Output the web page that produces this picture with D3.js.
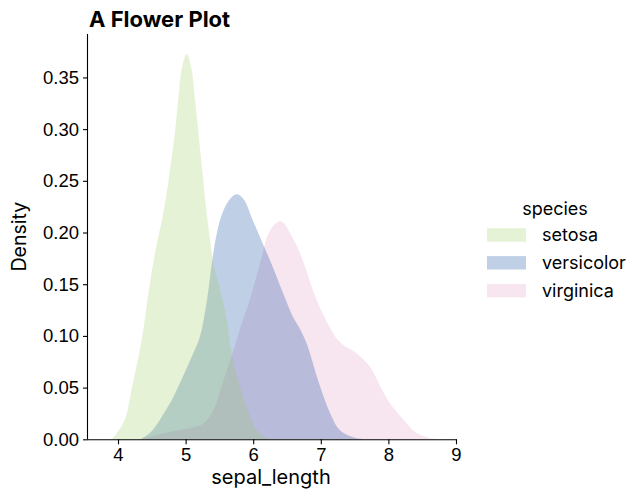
<!DOCTYPE html>
<html lang="en">
<head>
<meta charset="UTF-8">
<title>A Flower Plot</title>
<script src="https://d3js.org/d3.v7.min.js"></script>
<style>
  body { margin: 0; background: #fff; }
  svg { font-family: "Inter", "DejaVu Sans", sans-serif; }
</style>
</head>
<body>
<svg id="chart" width="643" height="502"></svg>
<script>

// species, in hue order
var species = ["setosa", "versicolor", "virginica"];
var colours = ["#97cb5b", "#003f9b", "#df97c3"];

// density curves (sepal_length, density)
var setosaX = [3.9, 3.96, 4.1, 4.2, 4.35, 4.47, 4.57, 4.65, 4.72, 4.78, 4.84, 4.89, 4.94, 5.016, 5.09, 5.14, 5.19, 5.24, 5.29, 5.35, 5.41, 5.51, 5.61, 5.68, 5.76, 5.9, 6.05, 6.2, 6.28];
var setosaY = [0, 0.004, 0.019, 0.048, 0.096, 0.15, 0.188, 0.212, 0.238, 0.266, 0.296, 0.328, 0.357, 0.373, 0.357, 0.328, 0.296, 0.264, 0.231, 0.199, 0.17, 0.145, 0.115, 0.083, 0.061, 0.032, 0.009, 0.001, 0];

var versicolorX = [4.33, 4.47, 4.62, 4.77, 4.87, 5.07, 5.21, 5.31, 5.41, 5.51, 5.63, 5.75, 5.85, 6.0, 6.15, 6.3, 6.45, 6.59, 6.69, 6.79, 6.84, 6.99, 7.14, 7.28, 7.48, 7.65];
var versicolorY = [0, 0.006, 0.019, 0.035, 0.048, 0.077, 0.099, 0.132, 0.18, 0.212, 0.23, 0.237, 0.233, 0.211, 0.188, 0.165, 0.14, 0.118, 0.107, 0.093, 0.083, 0.051, 0.025, 0.009, 0.002, 0];

var virginicaX = [4.33, 4.47, 4.77, 5.07, 5.26, 5.41, 5.56, 5.68, 5.8, 5.95, 6.1, 6.25, 6.41, 6.59, 6.74, 6.89, 7.04, 7.28, 7.53, 7.73, 7.88, 8.02, 8.22, 8.42, 8.62, 8.76];
var virginicaY = [0, 0.0025, 0.0074, 0.011, 0.015, 0.028, 0.057, 0.08, 0.106, 0.135, 0.17, 0.202, 0.211, 0.194, 0.172, 0.143, 0.12, 0.094, 0.083, 0.07, 0.051, 0.035, 0.019, 0.006, 0.001, 0];

var xTicks = [4, 5, 6, 7, 8, 9];
var yTicks = [0, 0.05, 0.10, 0.15, 0.20, 0.25, 0.30, 0.35];

var curves = [
  d3.zip(setosaX, setosaY),
  d3.zip(versicolorX, versicolorY),
  d3.zip(virginicaX, virginicaY)
];

var svg = d3.select("#chart"),
    plotL = 88, plotR = 457, plotT = 34, plotB = 439.3;

var x = d3.scaleLinear().domain([3.556, 9.015]).range([plotL, plotR]);
var y = d3.scaleLinear().domain([0, 0.392]).range([plotB, plotT]);

var area = d3.area()
  .curve(d3.curveCatmullRom.alpha(0.5))
  .x(function (d) { return x(d[0]); })
  .y0(y(0))
  .y1(function (d) { return y(d[1]); });

// seaborn draws the last hue first, so setosa ends up on top
svg.append("g").selectAll("path")
  .data(d3.range(species.length).reverse())
  .enter().append("path")
  .attr("d", function (i) { return area(curves[i]); })
  .attr("fill", function (i) { return colours[i]; })
  .attr("fill-opacity", 0.25);

var xAxis = svg.append("g")
  .attr("transform", "translate(0," + plotB + ")")
  .call(d3.axisBottom(x).tickValues(xTicks).tickSize(5).tickPadding(4).tickFormat(d3.format("d")));

var yAxis = svg.append("g")
  .attr("transform", "translate(" + plotL + ",0)")
  .call(d3.axisLeft(y).tickValues(yTicks).tickSize(5).tickPadding(4).tickFormat(d3.format(".2f")));

[xAxis, yAxis].forEach(function (g) {
  g.select(".domain").attr("stroke", "#000").attr("stroke-width", 1.1);
  g.selectAll(".tick line").attr("stroke", "#000").attr("stroke-width", 1.1);
  g.selectAll(".tick text").attr("fill", "#000").style("font-size", "18.5px").style("font-family", null);
});
// matplotlib spines: no end caps
xAxis.select(".domain").attr("d", "M" + plotL + ",0.5H" + plotR);
yAxis.select(".domain").attr("d", "M-0.5," + plotB + "V" + plotT);

svg.append("text")
  .attr("x", 271).attr("y", 484)
  .attr("text-anchor", "middle")
  .style("font-size", "20px")
  .text("sepal_length");

svg.append("text")
  .attr("transform", "translate(26," + (plotT + plotB) / 2 + ") rotate(-90)")
  .attr("text-anchor", "middle")
  .style("font-size", "19.5px")
  .text("Density");

svg.append("text")
  .attr("x", 89).attr("y", 27)
  .style("font-size", "22px")
  .style("font-weight", "bold")
  .text("A Flower Plot");

// legend
var legend = svg.append("g").attr("transform", "translate(487,0)");

legend.append("text")
  .attr("x", 68).attr("y", 215)
  .attr("text-anchor", "middle")
  .style("font-size", "18px")
  .text("species");

var item = legend.selectAll(".item")
  .data(species)
  .enter().append("g")
  .attr("class", "item")
  .attr("transform", function (d, i) { return "translate(0," + (235 + i * 27.8) + ")"; });

item.append("rect")
  .attr("x", 0).attr("y", -6.7)
  .attr("width", 39).attr("height", 13.4)
  .attr("fill", function (d, i) { return colours[i]; })
  .attr("fill-opacity", 0.25);

item.append("text")
  .attr("x", 55).attr("dy", "0.35em")
  .style("font-size", "18px")
  .text(function (d) { return d; });

</script>
</body>
</html>
